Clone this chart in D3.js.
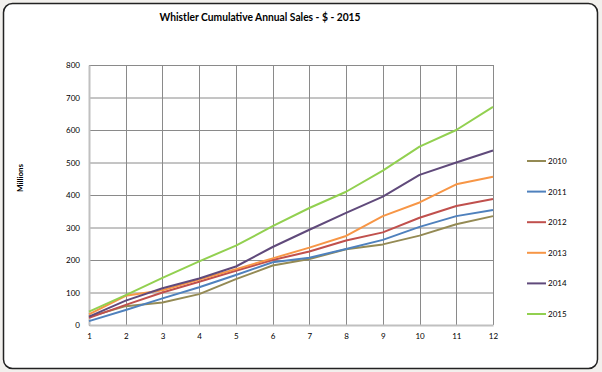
<!DOCTYPE html>
<html><head><meta charset="utf-8">
<script src="https://cdn.jsdelivr.net/npm/d3@7"></script>
<style>
html,body{margin:0;padding:0;background:#f2f0ed;}
svg{display:block;}
text{font-family:"Lato","Open Sans",sans-serif;fill:#000;}
</style></head>
<body>
<svg id="chart" width="602" height="372"></svg>
<script>
const categories = [1,2,3,4,5,6,7,8,9,10,11,12];
const seriesNames = ["2010","2011","2012","2013","2014","2015"];
const s2010 = [25, 58, 69, 95, 141, 183, 203, 233, 248, 275, 310, 335];
const s2011 = [12, 46, 82, 116, 154, 193, 207, 234, 262, 302, 335, 354];
const s2012 = [22, 62, 100, 133, 167, 200, 226, 260, 285, 330, 366, 388];
const s2013 = [33, 90, 107, 140, 172, 205, 238, 274, 335, 377, 433, 456];
const s2014 = [26, 75, 113, 143, 180, 240, 293, 345, 395, 462, 500, 537];
const s2015 = [41, 92, 145, 196, 244, 304, 360, 410, 475, 549, 600, 671];
const yTicks = [0,100,200,300,400,500,600,700,800];
const colors = ["#948a54","#4f81bd","#c0504d","#f79646","#604a7b","#92d050"];
const title = "Whistler Cumulative Annual Sales - $ - 2015";
const yTitle = "Millions";

const series = [s2010,s2011,s2012,s2013,s2014,s2015].map((v,i)=>({name:seriesNames[i], values:v, color:colors[i]}));

const svg = d3.select("#chart");
svg.append("rect").attr("x",3.5).attr("y",3.5).attr("width",594).attr("height",365)
  .attr("rx",9).attr("fill","#fff").attr("stroke","#222").attr("stroke-width",1.5);

const x = d3.scaleLinear().domain([1,12]).range([89,493]);
const y = d3.scaleLinear().domain([0,800]).range([325,65]);

// grid
const g = svg.append("g");
g.selectAll("line.h").data(yTicks).join("line")
  .attr("x1",x(1)).attr("x2",x(12)).attr("y1",d=>y(d)+0.5).attr("y2",d=>y(d)+0.5)
  .attr("stroke","#8a8a8a").attr("stroke-width",1);
g.selectAll("line.v").data(categories).join("line")
  .attr("y1",y(0)).attr("y2",y(800)).attr("x1",d=>Math.round(x(d))+0.5).attr("x2",d=>Math.round(x(d))+0.5)
  .attr("stroke","#8a8a8a").attr("stroke-width",1);

// axes
const yAxis = d3.axisLeft(y).tickValues(yTicks).tickSize(0).tickPadding(9);
const ya = svg.append("g").attr("transform",`translate(${x(1)},0)`).call(yAxis);
ya.select(".domain").attr("stroke","#c0c0c0").attr("stroke-width",2);
ya.selectAll("text").style("font-size","8px").style("font-family","Lato, sans-serif");

const xAxis = d3.axisBottom(x).tickValues(categories).tickSize(0).tickPadding(8).tickFormat(d3.format("d"));
const xa = svg.append("g").attr("transform",`translate(0,${y(0)})`).call(xAxis);
xa.select(".domain").attr("stroke","#c0c0c0").attr("stroke-width",2);
xa.selectAll("text").style("font-size","8px").style("font-family","Lato, sans-serif");

// lines
const line = d3.line().x((d,i)=>x(categories[i])).y(d=>y(d));
svg.append("g").selectAll("path").data(series).join("path")
  .attr("d",d=>line(d.values)).attr("fill","none").attr("stroke",d=>d.color)
  .attr("stroke-width",2).attr("stroke-linejoin","round");

// title
svg.append("text").attr("x",260).attr("y",21).attr("text-anchor","middle")
  .attr("textLength",201).attr("lengthAdjust","spacingAndGlyphs")
  .style("font-size","11.5px").style("font-weight","bold").text(title);
svg.append("text").attr("transform","translate(23,178) rotate(-90)").attr("text-anchor","middle")
  .style("font-size","8px").style("font-weight","bold").text(yTitle);

// legend
const leg = svg.append("g").selectAll("g").data(series).join("g")
  .attr("transform",(d,i)=>`translate(527,${161+i*30.6})`);
leg.append("line").attr("x1",0).attr("x2",19).attr("y1",0).attr("y2",0)
  .attr("stroke",d=>d.color).attr("stroke-width",2);
leg.append("text").attr("x",21).attr("y",3).style("font-size","8px").text(d=>d.name);
</script>
</body></html>
